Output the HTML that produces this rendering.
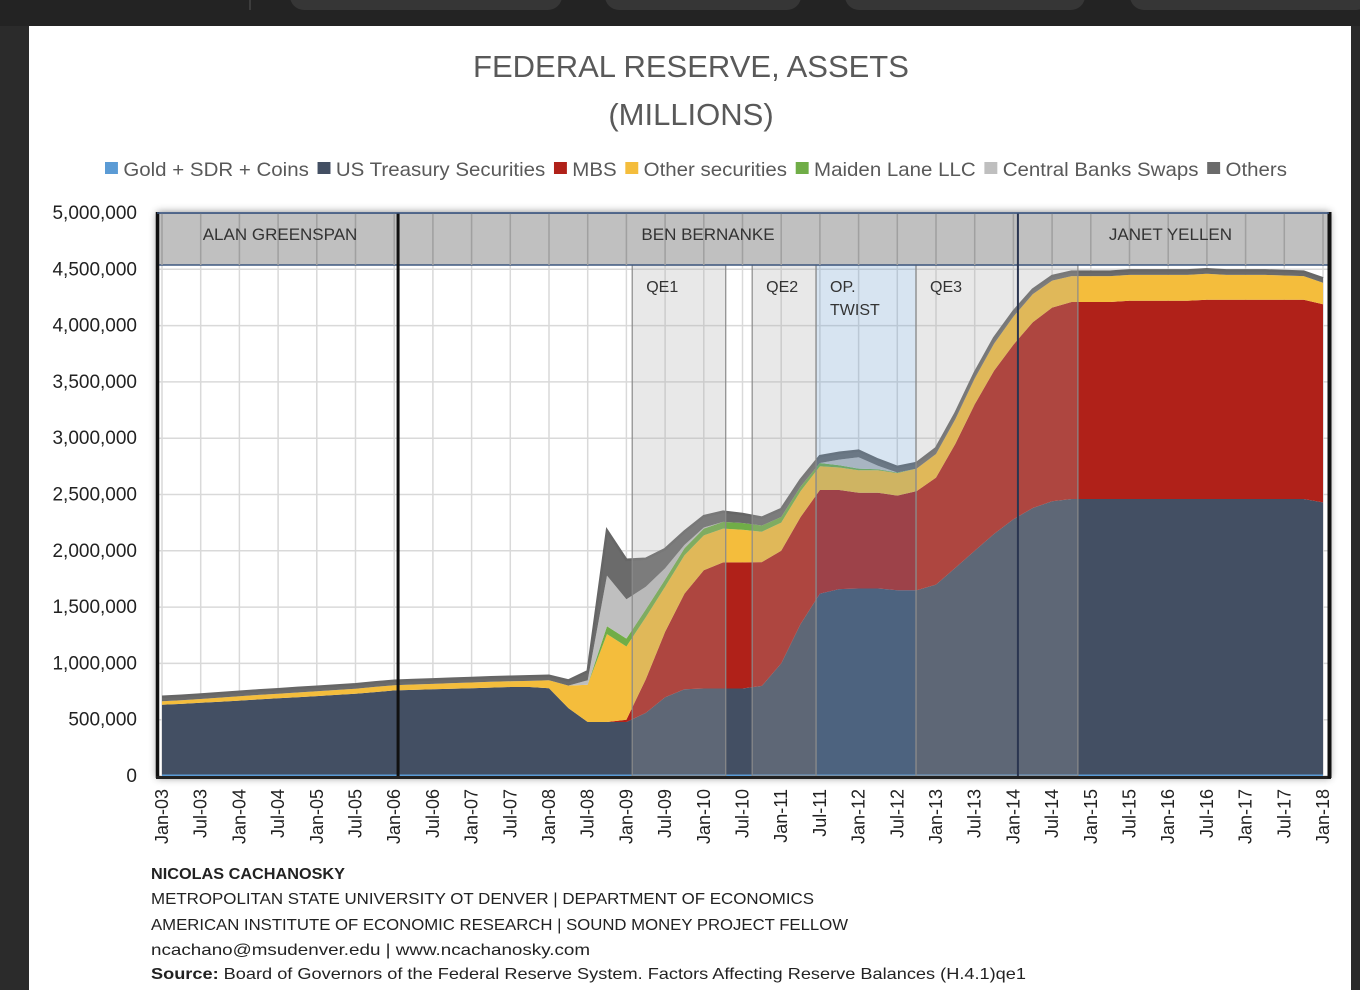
<!DOCTYPE html>
<html><head><meta charset="utf-8"><style>
html,body{margin:0;padding:0;background:#222;}
svg{display:block;font-family:"Liberation Sans",sans-serif;}
</style></head><body>
<svg id="chart" width="1360" height="990" viewBox="0 0 1360 990">
<rect x="0" y="0" width="1360" height="990" fill="#232323"/>
<rect x="0" y="26" width="29" height="964" fill="#2b2b2b"/>
<rect x="290" y="-20" width="272" height="30" rx="14" fill="#363636"/>
<rect x="605" y="-20" width="196" height="30" rx="14" fill="#363636"/>
<rect x="845" y="-20" width="240" height="30" rx="14" fill="#363636"/>
<rect x="1130" y="-20" width="240" height="30" rx="14" fill="#363636"/>
<line x1="250" y1="0" x2="250" y2="10" stroke="#555"/>
<rect x="29" y="26" width="1322" height="964" fill="#fff"/>
<rect x="1351" y="26" width="9" height="964" fill="#2a2a2a"/>

<text x="691" y="77" text-anchor="middle" font-size="31" fill="#595959">FEDERAL RESERVE, ASSETS</text>
<text x="691" y="125" text-anchor="middle" font-size="31" fill="#595959">(MILLIONS)</text>

<g id="legend"></g>
<defs><filter id="sh" x="-5%" y="-5%" width="110%" height="110%"><feDropShadow dx="0" dy="0" stdDeviation="4" flood-color="#000" flood-opacity="0.45"/></filter></defs>
<rect x="157" y="212" width="1173" height="566" fill="#fff" filter="url(#sh)"/>
<g id="grid"></g>
<g id="areas"></g>
<g id="overlays"></g>
<g id="axes"></g>

<g font-size="16" fill="#222">
<text x="151" y="879" font-weight="bold" textLength="194" lengthAdjust="spacingAndGlyphs">NICOLAS CACHANOSKY</text>
<text x="151" y="904" textLength="663" lengthAdjust="spacingAndGlyphs">METROPOLITAN STATE UNIVERSITY OT DENVER | DEPARTMENT OF ECONOMICS</text>
<text x="151" y="930" textLength="697" lengthAdjust="spacingAndGlyphs">AMERICAN INSTITUTE OF ECONOMIC RESEARCH | SOUND MONEY PROJECT FELLOW</text>
<text x="151" y="955" textLength="439" lengthAdjust="spacingAndGlyphs">ncachano@msudenver.edu  | www.ncachanosky.com</text>
<text x="151" y="979" textLength="875" lengthAdjust="spacingAndGlyphs"><tspan font-weight="bold">Source:</tspan> Board of Governors of the Federal Reserve System. Factors Affecting Reserve Balances (H.4.1)qe1</text>
</g>
</svg>
<script>
// Quarterly data, Jan-03 .. Jan-18 (61 points), thousands of millions
const gold = [13,13,13,13,13,13,13,13,13,13,13,13,13,13,13,13,13,13,13,13,13,13,13,13,13,13,13,13,13,13,13,13,13,13,13,13,13,13,13,13,13,13,13,13,13,13,13,13,13,13,13,13,13,13,13,13,13,13,13,13,13];
const treasury = [620,627,637,647,657,667,677,687,697,707,717,732,747,752,757,762,767,772,777,777,767,590,467,467,467,547,687,757,764,764,764,787,987,1337,1607,1647,1652,1652,1637,1637,1687,1837,1987,2137,2267,2367,2427,2447,2447,2447,2447,2447,2447,2447,2447,2447,2447,2447,2447,2447,2417];
const mbs = [0,0,0,0,0,0,0,0,0,0,0,0,0,0,0,0,0,0,0,0,0,0,0,0,20,300,580,850,1050,1120,1120,1100,1000,950,920,880,850,850,840,880,950,1100,1300,1450,1550,1650,1720,1750,1750,1750,1760,1760,1760,1760,1770,1770,1770,1770,1770,1770,1760];
const otherSec = [30,32,34,36,38,40,40,42,42,44,44,46,46,48,48,50,50,52,52,55,70,200,330,780,650,550,400,340,310,300,290,270,250,230,210,200,200,200,200,200,210,220,230,240,250,250,240,230,230,230,230,230,230,230,230,220,220,220,215,210,190];
const maidenLane = [0,0,0,0,0,0,0,0,0,0,0,0,0,0,0,0,0,0,0,0,0,0,0,70,70,70,65,62,60,60,60,55,50,40,30,20,15,10,5,0,0,0,0,0,0,0,0,0,0,0,0,0,0,0,0,0,0,0,0,0,0];
const swaps = [0,0,0,0,0,0,0,0,0,0,0,0,0,0,0,0,0,0,0,0,0,0,40,450,350,200,100,30,10,0,0,0,0,0,0,50,100,30,0,0,0,0,0,0,0,0,0,0,0,0,0,0,0,0,0,0,0,0,0,0,0];
const others = [40,40,40,40,40,40,40,40,40,40,40,40,40,40,40,40,40,40,40,40,40,45,80,400,350,250,170,120,100,90,80,70,70,60,60,60,60,55,50,50,50,50,50,50,45,40,40,40,40,40,40,40,40,40,40,40,40,40,40,40,40];
const seriesNames = ["Gold + SDR + Coins","US Treasury Securities","MBS","Other securities","Maiden Lane LLC","Central Banks Swaps","Others"];
const seriesColors = ["#5b9bd5","#434f63","#b02119","#f4bd3c","#70ad47","#bfbfbf","#6b6b6b"];
const yTicks = [0,500000,1000000,1500000,2000000,2500000,3000000,3500000,4000000,4500000,5000000];
const xLabels = [];
for(let y=3;y<=18;y++){const yy=(y<10?'0':'')+y;xLabels.push('Jan-'+yy);if(y<18)xLabels.push('Jul-'+yy);}
const periods = [["ALAN GREENSPAN",0,36.6],["BEN BERNANKE",36.6,132.7],["JANET YELLEN",132.7,180]];
const programs = [["QE1",72.9,87.4,"#aaaaaa"],["QE2",91.5,101.4,"#aaaaaa"],["OP. TWIST",101.4,116.9,"#6b9bcb"],["QE3",116.9,142,"#aaaaaa"]];

const NS="http://www.w3.org/2000/svg";
function mk(tag,attrs,parent){const e=document.createElementNS(NS,tag);for(const k in attrs)e.setAttribute(k,attrs[k]);parent.appendChild(e);return e;}
const X0=162, PX=6.45, Y0=776, YTOP=213;
const xS = m => X0 + m*PX;
const yS = v => Y0 - v/5000000*(Y0-YTOP);

const leg=document.getElementById('legend');
let lx=105;
seriesNames.forEach((n,i)=>{
  const r=mk('rect',{x:lx,y:162,width:12,height:12,fill:seriesColors[i]},leg);
  
  
  const t=mk('text',{x:lx+17,y:176,'font-size':19,fill:'#595959'},leg);
  
  
  t.textContent=n;
  lx+=17+t.getComputedTextLength()+8;
});
const lw=lx-8-105;
leg.setAttribute('transform',`translate(105,0) scale(${1182/lw},1) translate(-105,0)`);

const g=document.getElementById('grid');
yTicks.forEach(v=>{const l=mk('line',{x1:157,x2:1329,y1:yS(v),y2:yS(v),stroke:'#d9d9d9','stroke-width':1.5},g);
  });
xLabels.forEach((s,i)=>{const l=mk('line',{x1:xS(i*6),x2:xS(i*6),y1:YTOP,y2:Y0,stroke:'#d9d9d9','stroke-width':1.5},g);
  });

const series=[gold,treasury,mbs,otherSec,maidenLane,swaps,others];
const ar=document.getElementById('areas');
let base=gold.map(()=>0);
series.forEach((s,si)=>{
  const top=s.map((v,i)=>base[i]+v*1000);
  let d='';
  top.forEach((v,i)=>{d+=(i?'L':'M')+xS(i*3).toFixed(1)+','+yS(v).toFixed(1);});
  for(let i=base.length-1;i>=0;i--) d+='L'+xS(i*3).toFixed(1)+','+yS(base[i]).toFixed(1);
  const p=mk('path',{d:d+'Z',fill:seriesColors[si]},ar);
  
  
  base=top;
});
let dl='';base.forEach((v,i)=>{dl+=(i?'L':'M')+xS(i*3).toFixed(1)+','+yS(v).toFixed(1);});
const ol=mk('path',{d:dl,fill:'none',stroke:'#666','stroke-width':2.5},ar);


const ov=document.getElementById('overlays');
programs.forEach(p=>{
  const x1=xS(p[1]),x2=xS(p[2]);
  const r=mk('rect',{x:x1,y:265,width:x2-x1,height:Y0-265,fill:p[3],'fill-opacity':0.27,stroke:'#8a8a8a','stroke-width':1.2},ov);
  
  
  const lines=p[0]==="OP. TWIST"?["OP.","TWIST"]:[p[0]];
  lines.forEach((ln,k)=>{const t=mk('text',{x:x1+14,y:292+k*23,'font-size':16,fill:'#333'},ov);
    t.textContent=ln;});
});

const ax=document.getElementById('axes');
const hb=mk('rect',{x:157,y:YTOP,width:1172,height:52,fill:'#b0b0b0','fill-opacity':0.8,stroke:'#3e5880','stroke-width':1.5},ax);

xLabels.forEach((s,i)=>{const l=mk('line',{x1:xS(i*6),x2:xS(i*6),y1:YTOP,y2:265,stroke:'#a0a0a0','stroke-width':1.5},ax);
  });
periods.forEach((p,i)=>{
  const x1=xS(p[1]),x2=xS(p[2]);
  const t=mk('text',{x:(x1+x2)/2,y:240,'text-anchor':'middle','font-size':17,fill:'#333'},ax);
  t.textContent=p[0];
  if(i>0){const l=mk('line',{x1:x1,x2:x1,y1:YTOP,y2:Y0,stroke:i==1?'#111':'#2a3550','stroke-width':i==1?3:2},ax);
    }
});
const fr=[['M157.5,212V778','#111',3.5],['M156,777.5H1331','#222',3],['M1329.5,212V778','#111',4],['M157,213H1329','#3e5880',1.5]];
fr.forEach(f=>{const p=mk('path',{d:f[0],stroke:f[1],'stroke-width':f[2],fill:'none'},ax);
  });
yTicks.forEach(v=>{const t=mk('text',{x:137,y:yS(v)+6,'text-anchor':'end','font-size':19,fill:'#222'},ax);
  
  t.textContent=v.toLocaleString('en-US');});
xLabels.forEach((s,i)=>{const x=xS(i*6)+6;
  const t=mk('text',{x:x,y:789,'text-anchor':'end','font-size':18,fill:'#222',transform:`rotate(-90 ${x} 789)`},ax);
  t.textContent=s;});
</script>
</body></html>
